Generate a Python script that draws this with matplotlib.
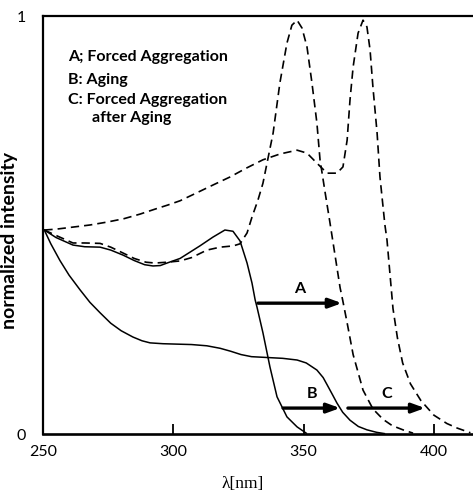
import matplotlib
matplotlib.use("Agg")
import matplotlib.pyplot as plt

# ==========================
# Data
# ==========================

fresh_x = [250.5, 255, 261.5, 266, 271.9, 276, 280.7, 285, 289, 292.2,
           295, 297.6, 302.6, 306.4, 310.2, 315.2, 319.8, 322.9, 325.6,
           328.3, 330.2, 331.4, 332.1, 334.4, 337.1, 339.8, 343.6, 347.5, 351]
fresh_y = [0.488, 0.470, 0.452, 0.448, 0.447, 0.440, 0.428, 0.415, 0.405, 0.402,
           0.403, 0.409, 0.420, 0.435, 0.450, 0.471, 0.488, 0.485, 0.462,
           0.409, 0.361, 0.321, 0.304, 0.242, 0.160, 0.089, 0.041, 0.017, 0.002]

aged_x = [250.5, 253, 256.5, 260, 264.2, 268, 271.9, 276, 280, 284.5,
          288, 291.1, 296, 301.4, 307, 312.9, 318, 322, 326, 330,
          336, 342, 347.5, 351, 355.1, 357.5, 359, 361, 362.8, 365,
          367.8, 371, 374.3, 378, 381]
aged_y = [0.488, 0.455, 0.415, 0.380, 0.345, 0.315, 0.290, 0.265, 0.247, 0.232,
          0.223, 0.218, 0.216, 0.215, 0.214, 0.211, 0.205, 0.198, 0.190, 0.185,
          0.183, 0.181, 0.177, 0.170, 0.153, 0.135, 0.118, 0.095, 0.074, 0.052,
          0.033, 0.018, 0.010, 0.004, 0.001]

fresh_agg_x = [250.5, 255, 261.5, 266, 271.9, 276, 280.7, 285, 289.5, 293,
               297.6, 302.6, 307, 312.9, 318, 323, 325.6, 328.3, 330.2, 332.5,
               334.4, 338.3, 340.9, 343.6, 345.5, 347.5, 349.4, 351.3, 353.2, 355.1,
               356.3, 358.2, 360, 362, 364, 365, 366.7, 369, 372.8, 376.6,
               380.5, 384, 388.1, 392]
fresh_agg_y = [0.488, 0.475, 0.457, 0.457, 0.456, 0.447, 0.433, 0.420, 0.411, 0.409,
               0.411, 0.414, 0.422, 0.440, 0.447, 0.450, 0.455, 0.481, 0.519, 0.560,
               0.600, 0.720, 0.840, 0.935, 0.978, 0.990, 0.971, 0.926, 0.840, 0.744,
               0.656, 0.580, 0.510, 0.430, 0.350, 0.320, 0.266, 0.190, 0.105, 0.060,
               0.035, 0.020, 0.010, 0.002]

aged_agg_x = [250.5, 255, 261.5, 268, 274.6, 281, 287.2, 293, 298, 302.6,
              308, 315, 321.8, 328, 334.4, 341, 347.5, 351.3, 355.1, 359,
              362.8, 365.1, 366.7, 367.8, 369, 370.9, 372.8, 374.3, 375.5, 376.6,
              378.2, 379.3, 381.2, 382, 384.3, 386, 388, 391, 395, 400,
              405, 409, 414]
aged_agg_y = [0.488, 0.490, 0.495, 0.500, 0.507, 0.515, 0.526, 0.538, 0.548, 0.558,
              0.574, 0.595, 0.615, 0.636, 0.656, 0.670, 0.679, 0.672, 0.648, 0.624,
              0.624, 0.639, 0.703, 0.799, 0.878, 0.959, 0.990, 0.974, 0.919, 0.830,
              0.720, 0.615, 0.500, 0.464, 0.300, 0.230, 0.170, 0.120, 0.080, 0.045,
              0.025, 0.014, 0.003]

# shift arrows: label, start, end, height
shift_labels = ["A", "B", "C"]
shift_start = [332.5, 342.1, 367.0]
shift_end = [364.7, 364.0, 396.6]
shift_y = [0.313, 0.062, 0.062]

legend_lines = [
    "A; Forced Aggregation",
    "B: Aging",
    "C: Forced Aggregation",
    "after Aging",
]

x_ticks = [250, 300, 350, 400]

# ==========================
# Figure
# ==========================

plt.rcParams["font.family"] = ["Lato", "DejaVu Sans"]

fig = plt.figure(figsize=(4.73, 4.97), dpi=100)
ax = fig.add_axes([43 / 473, 1 - 434 / 497, 1 - 43 / 473, (434 - 16) / 497])

dash = (0, (5, 3))

ax.plot(fresh_x, fresh_y, color="black", lw=1.1)
ax.plot(aged_x, aged_y, color="black", lw=1.1)
ax.plot(fresh_agg_x, fresh_agg_y, color="black", lw=1.2, linestyle=dash)
ax.plot(aged_agg_x, aged_agg_y, color="black", lw=1.2, linestyle=dash)

# ==========================
# Arrows
# ==========================

for lab, x0, x1, yy in zip(shift_labels, shift_start, shift_end, shift_y):

    ax.annotate(
        "",
        xy=(x1, yy),
        xytext=(x0, yy),
        arrowprops=dict(
            arrowstyle="-|>,head_length=0.55,head_width=0.2",
            mutation_scale=14,
            lw=2.4,
            color="black",
            shrinkA=0,
            shrinkB=0,
        ),
    )

    ax.text(
        (x0 + x1) / 2,
        yy + 0.033,
        lab,
        ha="center",
        va="center",
        fontsize=11.5,
        fontweight="bold",
    )

# ==========================
# Legend text
# ==========================

legend_x = [259.6, 259.6, 259.6, 268.8]
legend_y = [0.902, 0.847, 0.799, 0.756]

for txt, lx, ly in zip(legend_lines, legend_x, legend_y):
    ax.text(lx, ly, txt, ha="left", va="center", fontsize=11.5, fontweight="bold")

# ==========================
# Axes
# ==========================

ax.set_xlim(250, 415)
ax.set_ylim(0, 1)

ax.set_xticks(x_ticks)
ax.set_xticklabels([str(t) for t in x_ticks], fontsize=11.5)
ax.set_yticks([0, 1])
ax.set_yticklabels(["0", "1"], fontsize=11.5)

ax.tick_params(axis="x", direction="in", length=7, width=1.3, pad=8)
ax.tick_params(axis="y", length=0, pad=12)

for side in ["left", "top"]:
    ax.spines[side].set_linewidth(1.6)
ax.spines["bottom"].set_linewidth(1.9)
ax.spines["right"].set_visible(False)

ax.set_ylabel("normalized intensity", fontsize=14, fontweight="bold")
ax.yaxis.set_label_coords(-0.057, 0.464)
ax.set_xlabel("λ[nm]", fontsize=12.5, family=["Liberation Serif", "DejaVu Serif"])
ax.xaxis.set_label_coords(0.465, -0.10)

fig.savefig("out.png", dpi=100)
